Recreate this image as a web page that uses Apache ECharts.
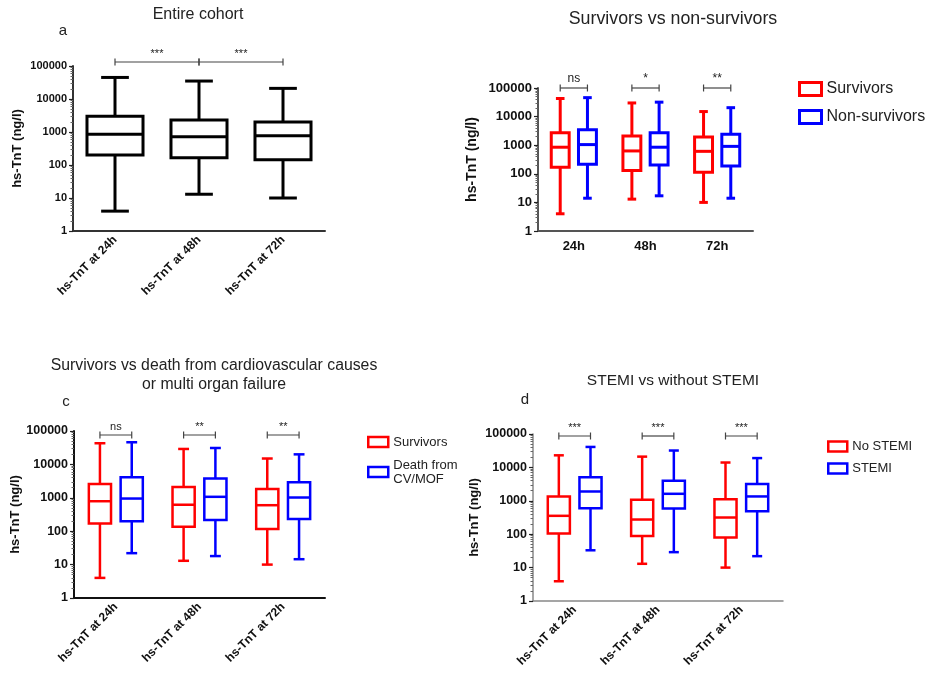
<!DOCTYPE html>
<html><head><meta charset="utf-8">
<script src="https://cdn.jsdelivr.net/npm/echarts@6/dist/echarts.min.js"></script>
<style>html,body{margin:0;padding:0;background:#fff}#c{width:937px;height:680px}</style>
</head><body><div id="c"></div><script>
const FONT = '"Liberation Sans", Arial, sans-serif';

// ---- data ----
const categoriesLong = ['hs-TnT at 24h', 'hs-TnT at 48h', 'hs-TnT at 72h'];
const categoriesShort = ['24h', '48h', '72h'];
const yTickValues = [1, 10, 100, 1000, 10000, 100000];
const yMinorTickValues = [2,3,4,5,6,7,8,9, 20,30,40,50,60,70,80,90, 200,300,400,500,600,700,800,900,
  2000,3000,4000,5000,6000,7000,8000,9000, 20000,30000,40000,50000,60000,70000,80000,90000];

// each row: [min, Q1, median, Q3, max] for 24h, 48h, 72h
const entireCohort   = [[4, 200, 850, 3000, 45000], [13, 165, 720, 2300, 35000], [10, 145, 770, 2000, 21000]];
const survivorsB     = [[4, 170, 850, 2700, 43000], [13, 130, 630, 2100, 30000], [10, 113, 610, 1950, 15000]];
const nonSurvivorsB  = [[14, 215, 1050, 3500, 46000], [17, 205, 850, 2750, 32000], [14, 187, 910, 2400, 20500]];
const survivorsC     = [[4, 170, 790, 2600, 43000], [13, 135, 620, 2100, 29000], [10, 117, 600, 1850, 15000]];
const deathCvMofC    = [[22, 200, 950, 4100, 46000], [18, 215, 1070, 3800, 31000], [14.5, 230, 1020, 2900, 20000]];
const noStemiD       = [[3.9, 105, 355, 1350, 23000], [13, 89, 275, 1070, 21000], [10, 79, 316, 1120, 14000]];
const stemiD         = [[33, 600, 1900, 5100, 41000], [29, 590, 1620, 4000, 32000], [22, 490, 1350, 3160, 19000]];

// significance: [label, fromCategory, toCategory]
const sigA = [['***', 0, 1], ['***', 1, 2]];
const sigB = [['ns', 0, 0], ['*', 1, 1], ['**', 2, 2]];
const sigC = [['ns', 0, 0], ['**', 1, 1], ['**', 2, 2]];
const sigD = [['***', 0, 0], ['***', 1, 1], ['***', 2, 2]];

const RED = '#ff0000', BLUE = '#0000ff';

// ---- renderers ----
function boxRenderer(offFrac, wFrac, capFrac, color, lw) {
  return function (params, api) {
    const cat = api.value(0);
    const band = api.coord([1, 10])[0] - api.coord([0, 10])[0];
    const cx = api.coord([cat, 10])[0] + offFrac * band;
    const y = i => api.coord([cat, api.value(i)])[1];
    const yMin = y(1), yQ1 = y(2), yMed = y(3), yQ3 = y(4), yMax = y(5);
    const hw = wFrac * band / 2, cw = capFrac * band / 2;
    const st = { stroke: color, lineWidth: lw };
    return { type: 'group', children: [
      { type: 'line', shape: { x1: cx, y1: yQ3, x2: cx, y2: yMax }, style: st },
      { type: 'line', shape: { x1: cx, y1: yQ1, x2: cx, y2: yMin }, style: st },
      { type: 'line', shape: { x1: cx - cw, y1: yMax, x2: cx + cw, y2: yMax }, style: st },
      { type: 'line', shape: { x1: cx - cw, y1: yMin, x2: cx + cw, y2: yMin }, style: st },
      { type: 'rect', shape: { x: cx - hw, y: yQ3, width: 2 * hw, height: yQ1 - yQ3 }, style: { stroke: color, lineWidth: lw, fill: '#fff' } },
      { type: 'line', shape: { x1: cx - hw, y1: yMed, x2: cx + hw, y2: yMed }, style: st }
    ]};
  };
}
function bracketRenderer(labels, fromOff, toOff, dy, fontSize, color) {
  return function (params, api) {
    const c0 = api.value(0), c1 = api.value(1);
    const band = api.coord([1, 10])[0] - api.coord([0, 10])[0];
    const top = api.coord([c0, api.value(2)])[1] + dy;
    const x1 = api.coord([c0, 10])[0] + fromOff * band;
    const x2 = api.coord([c1, 10])[0] + toOff * band;
    const st = { stroke: color, lineWidth: 1.2 };
    return { type: 'group', children: [
      { type: 'line', shape: { x1: x1, y1: top, x2: x2, y2: top }, style: st },
      { type: 'line', shape: { x1: x1, y1: top - 3.5, x2: x1, y2: top + 3.5 }, style: st },
      { type: 'line', shape: { x1: x2, y1: top - 3.5, x2: x2, y2: top + 3.5 }, style: st },
      { type: 'text', x: (x1 + x2) / 2, y: top - 3, style: { text: labels[params.dataIndex], fill: '#222', font: fontSize + 'px ' + FONT, align: 'center', verticalAlign: 'bottom' } }
    ]};
  };
}
const toBoxData = arr => arr.map((d, i) => [i].concat(d));
const toSigData = arr => arr.map(s => [s[1], s[2], yTickValues[yTickValues.length - 1]]);
const sigLabels = arr => arr.map(s => s[0]);

// ---- layout ----
const panels = [
  { left: 73, top: 66, width: 252, height: 165, cats: categoriesLong, rotate: 45, xFont: 12, yFont: 11, nameFont: 13, nameGap: 49, axisColor: '#333', axisW: 2 },
  { left: 538, top: 88, width: 215, height: 143, cats: categoriesShort, rotate: 0, xFont: 13, yFont: 13, nameFont: 14, nameGap: 59, axisColor: '#555', axisW: 2 },
  { left: 74, top: 431, width: 251, height: 167, cats: categoriesLong, rotate: 45, xFont: 12, yFont: 12.5, nameFont: 13, nameGap: 50, axisColor: '#111', axisW: 2 },
  { left: 533, top: 434, width: 250, height: 167, cats: categoriesLong, rotate: 45, xFont: 12, yFont: 12.5, nameFont: 13, nameGap: 45, axisColor: '#888', axisW: 1.5 }
];

const grid = panels.map(p => ({ left: p.left, top: p.top, width: p.width, height: p.height, containLabel: false }));
const xAxis = panels.map((p, i) => ({
  type: 'category', gridIndex: i, data: p.cats,
  axisLine: { lineStyle: { color: p.axisColor, width: p.axisW } },
  axisTick: { alignWithLabel: true, length: 4, lineStyle: { color: '#000', width: 1.2 } },
  axisLabel: { rotate: p.rotate, margin: p.rotate ? 7 : 9, interval: 0, color: '#111', fontWeight: 'bold', fontSize: p.xFont, fontFamily: FONT },
  splitLine: { show: false }
}));
const yAxis = panels.map((p, i) => ({
  type: 'log', logBase: 10, gridIndex: i, min: 1, max: 100000,
  name: 'hs-TnT (ng/l)', nameLocation: 'middle', nameRotate: 90, nameGap: p.nameGap,
  nameTextStyle: { fontWeight: 'bold', fontSize: p.nameFont, fontFamily: FONT, color: '#111' },
  axisLine: { show: true, lineStyle: { color: p.axisColor, width: p.axisW } },
  axisTick: { show: true, length: 4, customValues: yTickValues, lineStyle: { color: '#222', width: 1.2 } },
  axisLabel: { customValues: yTickValues, margin: 6, color: '#111', fontWeight: 'bold', fontSize: p.yFont, fontFamily: FONT, formatter: v => String(Math.round(v)) },
  splitLine: { show: false }
})).concat(panels.map((p, i) => ({
  type: 'log', logBase: 10, gridIndex: i, min: 1, max: 100000, position: 'left',
  axisLine: { show: false },
  axisTick: { show: true, length: 2.5, customValues: yMinorTickValues, lineStyle: { color: '#666', width: 1 } },
  axisLabel: { show: false },
  splitLine: { show: false }
})));

function boxSeries(name, data, gi, off, w, cap, color, lw) {
  return { type: 'custom', name: name, xAxisIndex: gi, yAxisIndex: gi, data: toBoxData(data),
    encode: { x: 0, y: [1, 2, 3, 4, 5] }, itemStyle: { color: color }, clip: false,
    renderItem: boxRenderer(off, w, cap, color, lw), silent: true };
}
function sigSeries(sig, gi, fromOff, toOff, dy, fs) {
  return { type: 'custom', name: 'sig' + gi, xAxisIndex: gi, yAxisIndex: gi, data: toSigData(sig),
    encode: { x: [0, 1], y: 2 }, clip: false, silent: true,
    renderItem: bracketRenderer(sigLabels(sig), fromOff, toOff, dy, fs, '#444') };
}

const series = [
  boxSeries('Entire cohort', entireCohort, 0, 0, 0.667, 0.33, '#000', 3),
  sigSeries(sigA, 0, 0, 0, -4, 11),
  boxSeries('Survivors', survivorsB, 1, -0.19, 0.25, 0.12, RED, 3),
  boxSeries('Non-survivors', nonSurvivorsB, 1, 0.19, 0.25, 0.12, BLUE, 3),
  sigSeries(sigB, 1, -0.19, 0.19, 0, 12),
  boxSeries('Survivors', survivorsC, 2, -0.19, 0.265, 0.13, RED, 2.5),
  boxSeries('Death from CV/MOF', deathCvMofC, 2, 0.19, 0.265, 0.13, BLUE, 2.5),
  sigSeries(sigC, 2, -0.19, 0.19, 4, 11),
  boxSeries('No STEMI', noStemiD, 3, -0.19, 0.265, 0.12, RED, 2.5),
  boxSeries('STEMI', stemiD, 3, 0.19, 0.265, 0.12, BLUE, 2.5),
  sigSeries(sigD, 3, -0.19, 0.19, 2, 11)
];

const legItem = (name, color, bw) => ({ name: name, itemStyle: { color: 'rgba(255,255,255,0)', borderColor: color, borderWidth: bw } });
const legend = [
  { left: 793, top: 76, orient: 'vertical', icon: 'rect', itemWidth: 22, itemHeight: 13, itemGap: 12, selectedMode: false,
    textStyle: { fontSize: 16, fontFamily: FONT, color: '#222' },
    data: [legItem('Survivors', RED, 3), legItem('Non-survivors', BLUE, 3)] },
  { left: 362, top: 430, orient: 'vertical', icon: 'rect', itemWidth: 20, itemHeight: 10, itemGap: 9, selectedMode: false,
    textStyle: { fontSize: 13, fontFamily: FONT, color: '#222', lineHeight: 14 },
    formatter: n => n === 'Death from CV/MOF' ? 'Death from\nCV/MOF' : n,
    data: [legItem('Survivors', RED, 2.5), legItem('Death from CV/MOF', BLUE, 2.5)] },
  { left: 822, top: 435, orient: 'vertical', icon: 'rect', itemWidth: 19, itemHeight: 10, itemGap: 9, selectedMode: false,
    textStyle: { fontSize: 13, fontFamily: FONT, color: '#222' },
    data: [legItem('No STEMI', RED, 2.5), legItem('STEMI', BLUE, 2.5)] }
];

const txt = (text, x, y, size, align) => ({ type: 'text', x: x, y: y, silent: true,
  style: { text: text, fill: '#222', font: size + 'px ' + FONT, align: align || 'center', verticalAlign: 'middle' } });
const graphic = [
  txt('Entire cohort', 198, 15, 16),
  txt('a', 63, 31, 15),
  txt('Survivors vs non-survivors', 673, 19, 17.8),
  txt('Survivors vs death from cardiovascular causes', 214, 366, 15.8),
  txt('or multi organ failure', 214, 385, 15.8),
  txt('c', 66, 402, 15),
  txt('STEMI vs without STEMI', 673, 381, 15.5),
  txt('d', 525, 400, 15)
];

const chart = echarts.init(document.getElementById('c'), null, { renderer: 'canvas' });
chart.setOption({ animation: false, backgroundColor: '#fff', grid, xAxis, yAxis, series, legend, graphic });
</script></body></html>
